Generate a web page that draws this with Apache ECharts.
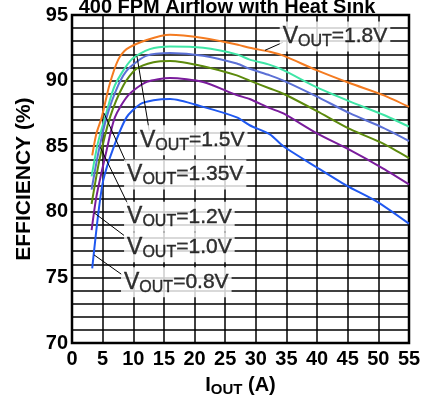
<!DOCTYPE html>
<html lang="en">
<head>
  <meta charset="UTF-8" />
  <title>Efficiency vs Iout</title>
  <script src="https://cdn.jsdelivr.net/npm/echarts@6/dist/echarts.min.js"></script>
  <style>
    body, html { margin: 0; padding: 0; width: 100%; height: 100%; overflow: hidden; background: #fff; }
    #chart { width: 430px; height: 402px; }
  </style>
</head>
<body>
  <div id="chart"></div>
<script>
  // Efficiency (%) vs output current (A)
  var v18 = [[3.3,84.3],[4.0,86.0],[4.85,87.2],[6.1,89.65],[7.55,91.6],[8.9,92.4],[12.2,93.1],[16,93.5],[21.4,93.25],[26.9,92.76],[29,92.5],[32.3,92.2],[34.5,91.9],[39.9,90.8],[45.4,89.8],[50.8,88.9],[55,88.0]];
  var v15 = [[3.2,82.7],[4.2,85.2],[5.4,87.2],[7.0,89.65],[9.7,91.6],[12.7,92.4],[16,92.6],[21.4,92.5],[26.9,92.0],[29,91.6],[32.3,91.2],[34.5,90.8],[39.9,89.5],[45.4,88.4],[50.8,87.4],[55,86.5]];
  var v135 = [[3.2,81.7],[4.3,84.5],[5.65,87.2],[7.55,89.65],[9.2,90.9],[12.2,91.9],[16,92.1],[21.4,91.9],[26.9,91.3],[29,90.9],[32.3,90.4],[34.5,90.0],[39.9,88.8],[45.4,87.5],[50.8,86.4],[55,85.4]];
  var v12 = [[3.2,80.6],[4.5,84.0],[6.2,87.2],[8.4,89.65],[10.5,90.9],[13.3,91.4],[16,91.5],[21.4,91.1],[26.9,90.4],[29,90.0],[32.3,89.4],[34.5,89.0],[39.9,87.7],[45.4,86.3],[50.8,85.2],[55,84.1]];
  var v10 = [[3.2,78.6],[4.0,81.2],[5.65,84.7],[7.0,87.2],[9.2,88.9],[12.2,89.9],[16,90.2],[21.4,89.9],[26.9,88.9],[29,88.6],[32.3,87.9],[34.5,87.5],[39.9,86.0],[45.4,84.7],[50.8,83.3],[55,82.1]];
  var v08 = [[3.3,75.7],[4.3,79.9],[5.1,82.4],[6.7,84.8],[8.9,87.2],[11.1,88.2],[13.3,88.5],[16,88.6],[21.4,88.0],[26.9,87.2],[29,86.6],[32.3,85.9],[34.5,85.0],[39.9,83.4],[44.8,82.0],[49.7,80.8],[55,79.1]];

  var curveNames = ['1.8V', '1.5V', '1.35V', '1.2V', '1.0V', '0.8V'];
  var curveData = [v18, v15, v135, v12, v10, v08];
  var curveColors = ['#f47b20', '#3fe6a6', '#5b70d6', '#5c8a0c', '#7a1c9c', '#1f58f0'];

  // label anchor (left edge, middle) and leader line ends, in data units
  var labelAt = [[33.9,93.36],[10.6,85.45],[8.5,82.84],[8.5,79.63],[8.5,77.31],[8.0,74.63]];
  var leaders = [
    [[31.5,92.31],[34.4,92.91]],
    [[10.6,91.87],[12.6,86.19]],
    [[5.2,87.54],[8.8,83.8]],
    [[4.6,84.93],[9.1,80.6]],
    [[3.6,79.93],[8.5,78.2]],
    [[3.6,76.72],[8.2,75.2]]
  ];

  var font = 'Liberation Sans, Arial, sans-serif';
  var chart = echarts.init(document.getElementById('chart'));

  var series = curveData.map(function (d, i) {
    return {
      name: curveNames[i],
      type: 'line',
      data: d,
      smooth: 0.25,
      showSymbol: false,
      z: 3,
      lineStyle: { color: curveColors[i], width: 2 }
    };
  });

  series.push({
    type: 'lines',
    coordinateSystem: 'cartesian2d',
    z: 4,
    lineStyle: { color: '#000', width: 1, opacity: 1 },
    data: leaders.map(function (l) { return { coords: l }; })
  });

  var labelText = { fontFamily: font, color: '#000', textBorderColor: '#000', textBorderWidth: 0.4 };
  series.push({
    type: 'scatter',
    symbolSize: 0,
    z: 5,
    data: labelAt.map(function (p, i) { return { value: p, name: curveNames[i] }; }),
    label: {
      show: true,
      position: 'right',
      distance: 0,
      backgroundColor: '#fff',
      padding: [2, 3, 2, 3],
      formatter: function (p) { return '{v|V}{s|OUT}{t|=' + p.name + '}'; },
      rich: {
        v: Object.assign({ fontSize: 23, lineHeight: 26 }, labelText),
        s: Object.assign({ fontSize: 16, padding: [10, 0, 0, 0], lineHeight: 16 }, labelText),
        t: Object.assign({ fontSize: 21, lineHeight: 26 }, labelText)
      }
    }
  });

  var option = {
    backgroundColor: '#fff',
    animation: false,
    title: {
      text: '400 FPM Airflow with Heat Sink',
      left: 222,
      textAlign: 'center',
      top: -8,
      textStyle: { fontFamily: font, fontSize: 20, fontWeight: 'bold', color: '#000' }
    },
    grid: {
      left: 72, right: 21, top: 15, bottom: 52,
      show: true, borderColor: '#000', borderWidth: 2.5, backgroundColor: 'transparent'
    },
    xAxis: {
      type: 'value',
      min: 0, max: 55, interval: 5,
      name: '{a|I}{b|OUT}{a| (A)}',
      nameLocation: 'middle',
      nameGap: 31,
      nameTextStyle: {
        rich: {
          a: { fontFamily: font, fontSize: 20, fontWeight: 'bold', color: '#000', lineHeight: 22 },
          b: { fontFamily: font, fontSize: 15, fontWeight: 'bold', color: '#000', padding: [8, 0, 0, 0], lineHeight: 15 }
        }
      },
      axisLine: { show: false },
      axisTick: { show: false },
      axisLabel: { fontFamily: font, fontSize: 20, fontWeight: 'bold', color: '#000', margin: 6 },
      splitLine: { show: true, lineStyle: { color: '#000', width: 1.5 } }
    },
    yAxis: {
      type: 'value',
      min: 70, max: 95, interval: 1,
      name: 'EFFICIENCY (%)',
      nameLocation: 'middle',
      nameGap: 36,
      nameTextStyle: { fontFamily: font, fontSize: 21, fontWeight: 'bold', color: '#000' },
      axisLine: { show: false },
      axisTick: { show: false },
      axisLabel: {
        fontFamily: font, fontSize: 20, fontWeight: 'bold', color: '#000', margin: 4,
        formatter: function (v) { return v % 5 === 0 ? v : ''; }
      },
      splitLine: { show: true, lineStyle: { color: '#000', width: 1.5 } }
    },
    series: series
  };

  chart.setOption(option);
</script>
</body>
</html>
